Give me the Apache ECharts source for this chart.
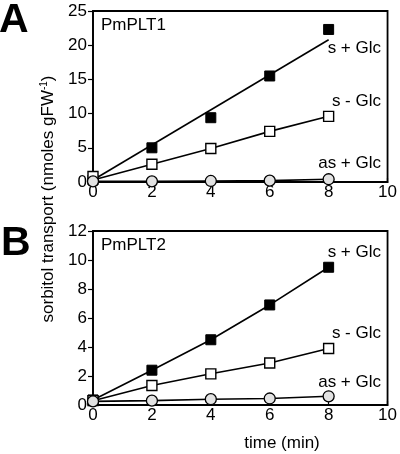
<!DOCTYPE html>
<html>
<head>
<meta charset="utf-8">
<script src="https://cdn.jsdelivr.net/npm/echarts@6/dist/echarts.min.js"></script>
<style>
html,body{margin:0;padding:0;background:#fff;}
#chart{width:400px;height:454px;}
</style>
</head>
<body>
<div id="chart"></div>
<script>
// ---- data ----
const timePoints = [0, 2, 4, 6, 8];
const xTicks = [0, 2, 4, 6, 8, 10];
const yTicksA = [0, 5, 10, 15, 20, 25];
const yTicksB = [0, 2, 4, 6, 8, 10, 12];

// Panel A (PmPLT1)
const aSPlusGlc = [0.3, 5.0, 9.4, 15.5, 22.3];
const aSPlusGlcFitX = [0, 8];
const aSPlusGlcFitY = [0.3, 20.8];
const aSMinusGlc = [0.8, 2.6, 4.9, 7.4, 9.6];
const aSMinusGlcLine = [0.3, 2.6, 4.9, 7.4, 9.6];
const aAsPlusGlc = [0.1, 0.1, 0.15, 0.2, 0.4];

// Panel B (PmPLT2)
const bSPlusGlc = [0.35, 2.4, 4.5, 6.9, 9.5];
const bSMinusGlc = [0.3, 1.35, 2.15, 2.9, 3.9];
const bAsPlusGlc = [0.25, 0.3, 0.4, 0.45, 0.6];

const seriesLabels = ['s + Glc', 's - Glc', 'as + Glc'];
const panelNames = ['PmPLT1', 'PmPLT2'];
const panelLetters = ['A', 'B'];

const pair = (xs, ys) => xs.map((x, i) => [x, ys[i]]);

const FONT = '"Liberation Sans", Arial, Helvetica, sans-serif';
const FS = 17;
const chart = echarts.init(document.getElementById('chart'), null, {renderer: 'canvas'});

function xAxisFor(gi) {
  return {
    type: 'value', gridIndex: gi, min: xTicks[0], max: xTicks[xTicks.length - 1], interval: 2,
    axisLine: {show: true, onZero: false, lineStyle: {color: '#000', width: 1.6}},
    axisTick: {show: true, inside: true, length: 4, lineStyle: {color: '#000', width: 1.2}},
    axisLabel: {color: '#000', fontSize: FS, fontFamily: FONT, margin: 2},
    splitLine: {show: false}
  };
}
function yAxisFor(gi, ticks) {
  return {
    type: 'value', gridIndex: gi, min: ticks[0], max: ticks[ticks.length - 1], interval: ticks[1] - ticks[0],
    axisLine: {show: true, onZero: false, lineStyle: {color: '#000', width: 1.6}},
    axisTick: {show: true, inside: false, length: 5, lineStyle: {color: '#000', width: 1.2}},
    axisLabel: {color: '#000', fontSize: FS, fontFamily: FONT, margin: 6},
    splitLine: {show: false}
  };
}

const lineStyle = {color: '#000', width: 1.6};
function lineSeries(gi, data) {
  return {type: 'line', xAxisIndex: gi, yAxisIndex: gi, data, showSymbol: false, symbol: 'none',
    lineStyle, clip: false, silent: true, animation: false, z: 2};
}
function markSeries(gi, data, kind) {
  const s = {type: 'scatter', xAxisIndex: gi, yAxisIndex: gi, data, clip: false, animation: false, silent: true};
  if (kind === 'filled') {
    Object.assign(s, {symbol: 'rect', symbolSize: 10, itemStyle: {color: '#000', borderColor: '#000', borderWidth: 1, opacity: 1}, z: 4});
  } else if (kind === 'open') {
    Object.assign(s, {symbol: 'rect', symbolSize: 10, itemStyle: {color: '#fff', borderColor: '#000', borderWidth: 1.4, opacity: 1}, z: 4});
  } else {
    Object.assign(s, {symbol: 'circle', symbolSize: 11, itemStyle: {color: '#e2e2e2', borderColor: '#000', borderWidth: 1.3, opacity: 1}, z: 5});
  }
  return s;
}

const txt = (text, x, y, extra) => ({type: 'text', x, y, style: Object.assign({text, fill: '#000', font: FS + 'px ' + FONT, verticalAlign: 'middle'}, extra || {})});

const option = {
  backgroundColor: '#fff',
  animation: false,
  grid: [
    {left: 93, top: 11, right: 10, height: 171, show: true, borderColor: '#000', borderWidth: 1.8, backgroundColor: 'transparent'},
    {left: 93, top: 231, right: 10, height: 174, show: true, borderColor: '#000', borderWidth: 1.8, backgroundColor: 'transparent'}
  ],
  xAxis: [xAxisFor(0), xAxisFor(1)],
  yAxis: [yAxisFor(0, yTicksA), yAxisFor(1, yTicksB)],
  series: [
    lineSeries(0, pair(aSPlusGlcFitX, aSPlusGlcFitY)),
    lineSeries(0, pair(timePoints, aSMinusGlcLine)),
    lineSeries(0, pair(timePoints, aAsPlusGlc)),
    markSeries(0, pair(timePoints, aSPlusGlc), 'filled'),
    markSeries(0, pair(timePoints, aSMinusGlc), 'open'),
    markSeries(0, pair(timePoints, aAsPlusGlc), 'circle'),
    lineSeries(1, pair(timePoints, bSPlusGlc)),
    lineSeries(1, pair(timePoints, bSMinusGlc)),
    lineSeries(1, pair(timePoints, bAsPlusGlc)),
    markSeries(1, pair(timePoints, bSPlusGlc), 'filled'),
    markSeries(1, pair(timePoints, bSMinusGlc), 'open'),
    markSeries(1, pair(timePoints, bAsPlusGlc), 'circle')
  ],
  graphic: [
    txt(panelLetters[0], -1, 21, {font: 'bold 41px ' + FONT}),
    txt(panelLetters[1], 1, 244, {font: 'bold 41px ' + FONT}),
    txt(panelNames[0], 101, 25),
    txt(panelNames[1], 101, 245),
    txt(seriesLabels[0], 381, 48, {align: 'right'}),
    txt(seriesLabels[1], 381, 101, {align: 'right'}),
    txt(seriesLabels[2], 381, 163, {align: 'right'}),
    txt(seriesLabels[0], 381, 252, {align: 'right'}),
    txt(seriesLabels[1], 381, 333, {align: 'right'}),
    txt(seriesLabels[2], 381, 382, {align: 'right'}),
    txt('time (min)', 282, 443, {align: 'center'}),
    {
      type: 'text', x: 48, y: 199, rotation: Math.PI / 2,
      style: {
        text: '{a|sorbitol transport (nmoles gFW}{s|-1}{a|)}',
        align: 'center', verticalAlign: 'middle', fill: '#000',
        rich: {
          a: {fontSize: 17, fontFamily: FONT, fill: '#000'},
          s: {fontSize: 10, fontFamily: FONT, fill: '#000', verticalAlign: 'top', padding: [0, 0, 8, 0]}
        }
      }
    }
  ]
};
chart.setOption(option);
</script>
</body>
</html>
